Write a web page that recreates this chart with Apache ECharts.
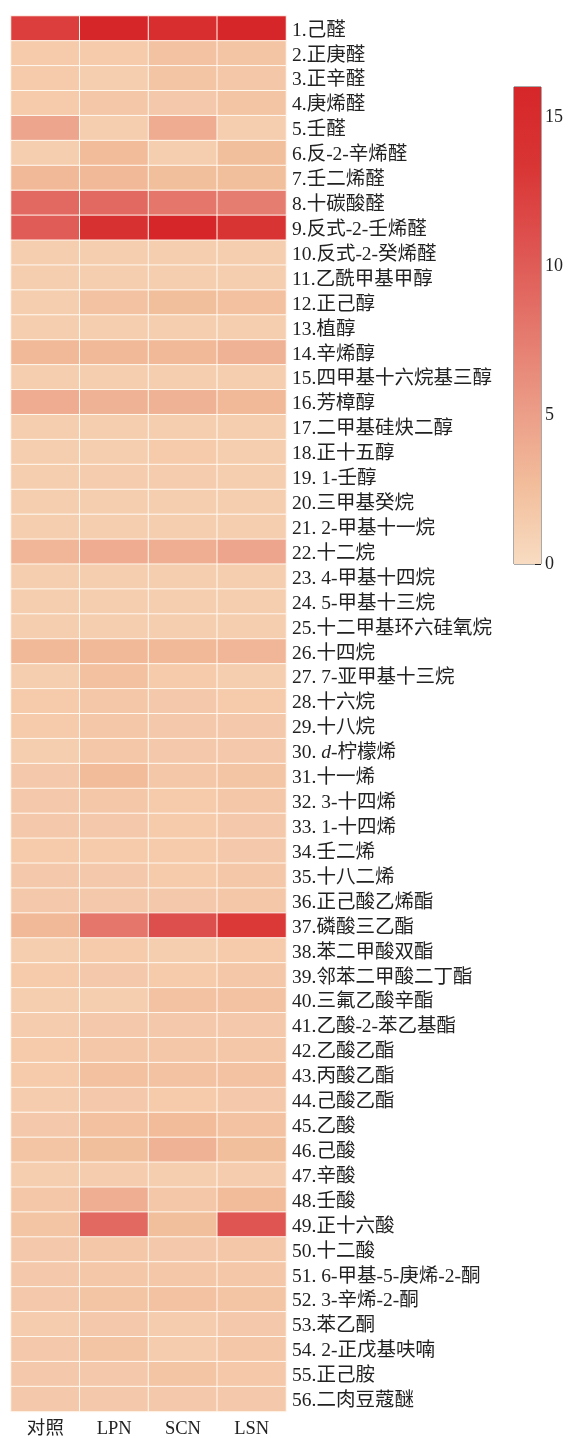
<!DOCTYPE html>
<html>
<head>
<meta charset="utf-8">
<script src="https://cdn.jsdelivr.net/npm/echarts@6/dist/echarts.min.js"></script>
<style>
  html, body { margin: 0; padding: 0; background: #fff; }
  #chart { width: 568px; height: 1438px; }
</style>
</head>
<body>
<div id="chart"></div>
<script>
// Volatile compounds (rows) and treatment groups (columns)
const compounds = [
  '1.己醛', '2.正庚醛', '3.正辛醛', '4.庚烯醛', '5.壬醛', '6.反-2-辛烯醛', '7.壬二烯醛',
  '8.十碳酸醛', '9.反式-2-壬烯醛', '10.反式-2-癸烯醛', '11.乙酰甲基甲醇', '12.正己醇',
  '13.植醇', '14.辛烯醇', '15.四甲基十六烷基三醇', '16.芳樟醇', '17.二甲基硅炔二醇',
  '18.正十五醇', '19. 1-壬醇', '20.三甲基癸烷', '21. 2-甲基十一烷', '22.十二烷',
  '23. 4-甲基十四烷', '24. 5-甲基十三烷', '25.十二甲基环六硅氧烷', '26.十四烷',
  '27. 7-亚甲基十三烷', '28.十六烷', '29.十八烷', '30. {i|d}-柠檬烯', '31.十一烯',
  '32. 3-十四烯', '33. 1-十四烯', '34.壬二烯', '35.十八二烯', '36.正己酸乙烯酯',
  '37.磷酸三乙酯', '38.苯二甲酸双酯', '39.邻苯二甲酸二丁酯', '40.三氟乙酸辛酯',
  '41.乙酸-2-苯乙基酯', '42.乙酸乙酯', '43.丙酸乙酯', '44.己酸乙酯', '45.乙酸',
  '46.己酸', '47.辛酸', '48.壬酸', '49.正十六酸', '50.十二酸', '51. 6-甲基-5-庚烯-2-酮',
  '52. 3-辛烯-2-酮', '53.苯乙酮', '54. 2-正戊基呋喃', '55.正己胺', '56.二肉豆蔻醚'
];
const groups = ['对照', 'LPN', 'SCN', 'LSN'];

const control = [
  12.5, 1.5, 1.5, 1.5, 4.5, 1.3, 3.0, 9.0, 10.0, 1.2, 1.2, 1.3, 1.3, 3.0, 1.2, 4.0,
  1.2, 1.3, 1.3, 1.2, 1.2, 3.2, 1.2, 1.2, 1.3, 3.0, 1.2, 1.5, 1.5, 1.3, 1.6, 1.6,
  1.6, 1.5, 1.6, 1.6, 3.0, 1.3, 1.5, 1.3, 1.4, 1.5, 1.5, 1.4, 1.6, 2.0, 1.3, 1.8,
  2.0, 1.6, 1.6, 1.6, 1.4, 1.6, 1.6, 1.6
];
const lpn = [
  16.0, 1.5, 1.3, 1.8, 1.3, 2.8, 3.0, 9.0, 14.0, 1.3, 1.3, 2.2, 1.3, 3.0, 1.2, 3.5,
  1.3, 1.3, 1.4, 1.2, 1.3, 4.0, 1.3, 1.3, 1.3, 3.0, 2.3, 1.8, 1.8, 1.8, 2.8, 1.8,
  1.6, 1.5, 1.6, 1.6, 8.0, 1.5, 1.6, 1.3, 1.6, 1.8, 2.3, 1.6, 2.3, 2.5, 1.4, 3.8,
  9.0, 1.8, 1.8, 2.0, 1.6, 2.0, 1.6, 1.6
];
const scn = [
  14.5, 2.2, 2.0, 1.6, 4.0, 1.2, 2.5, 8.0, 16.0, 1.3, 1.3, 2.5, 1.3, 3.0, 1.2, 3.5,
  1.2, 1.5, 1.4, 1.3, 1.3, 3.8, 1.3, 1.3, 1.3, 3.0, 1.5, 1.6, 1.6, 1.6, 1.8, 1.5,
  1.5, 1.5, 1.5, 1.6, 11.0, 1.3, 1.5, 2.2, 1.6, 1.8, 2.2, 1.5, 2.8, 3.5, 1.3, 1.8,
  2.5, 1.6, 1.8, 2.2, 1.4, 1.4, 2.0, 1.6
];
const lsn = [
  16.0, 2.0, 1.8, 2.0, 1.2, 2.5, 2.5, 7.5, 13.5, 1.2, 1.3, 2.3, 1.3, 3.5, 1.2, 3.0,
  1.2, 1.3, 1.3, 1.2, 1.3, 4.5, 1.2, 1.3, 1.3, 3.2, 1.2, 1.5, 1.6, 1.6, 2.0, 1.8,
  1.6, 1.6, 1.8, 1.8, 13.0, 1.5, 1.8, 2.2, 1.6, 1.8, 2.2, 1.6, 2.2, 2.5, 1.4, 2.8,
  10.5, 1.8, 1.8, 2.0, 1.6, 1.8, 1.7, 1.6
];

// Colour scale shared by the heatmap and its colour bar
const scaleMin = 0;
const scaleMax = 16;
const palette = ['#f8dcc2', '#f2bd9b', '#eb9a86', '#e4766b', '#de5350', '#d93535', '#d6262a'];

const columns = [control, lpn, scn, lsn];
const cells = [];
columns.forEach((col, gi) => {
  col.forEach((v, ri) => cells.push([gi, ri, v]));
});

const serif = '"Liberation Serif", "Noto Sans CJK SC", serif';

const chart = echarts.init(document.getElementById('chart'), null, { renderer: 'canvas' });
chart.setOption({
  backgroundColor: '#ffffff',
  animation: false,
  grid: [
    { left: 11, top: 16, width: 275, height: 1400 },
    { left: 514, top: 87, width: 27, height: 477, show: true, borderColor: '#555', borderWidth: 1, backgroundColor: 'transparent' }
  ],
  xAxis: [
    {
      type: 'category', data: groups, gridIndex: 0,
      axisLine: { show: false }, axisTick: { show: false }, splitLine: { show: false },
      axisLabel: { interval: 0, margin: 8, fontSize: 18.5, color: '#222', fontFamily: serif }
    },
    {
      type: 'category', data: ['c'], gridIndex: 1,
      axisLine: { show: false }, axisTick: { show: false }, axisLabel: { show: false }
    }
  ],
  yAxis: [
    {
      type: 'category', data: compounds, gridIndex: 0, inverse: true, position: 'right',
      axisLine: { show: false }, axisTick: { show: false }, splitLine: { show: false },
      axisLabel: {
        interval: 0, hideOverlap: false, padding: [4, 0, 0, 0],
        margin: 6, fontSize: 19.5, lineHeight: 22, color: '#222', fontFamily: serif, align: 'left',
        rich: { i: { fontStyle: 'italic', fontSize: 19.5, fontFamily: serif, color: '#222' } }
      }
    },
    {
      type: 'value', gridIndex: 1, min: scaleMin, max: scaleMax, interval: 5, position: 'right',
      axisLine: { show: false },
      axisTick: { show: true, inside: true, length: 6, lineStyle: { color: '#222' } },
      splitLine: { show: false },
      axisLabel: { margin: 4, fontSize: 18, color: '#222', fontFamily: serif, showMaxLabel: false }
    }
  ],
  visualMap: {
    show: false, type: 'continuous', seriesIndex: 0,
    min: scaleMin, max: scaleMax, inRange: { color: palette }
  },
  series: [
    {
      type: 'heatmap', xAxisIndex: 0, yAxisIndex: 0, data: cells,
      itemStyle: { borderColor: '#fff8ef', borderWidth: 1 },
      emphasis: { disabled: true }
    },
    {
      type: 'bar', xAxisIndex: 1, yAxisIndex: 1, data: [scaleMax], barWidth: '100%',
      silent: true, z: 1,
      itemStyle: {
        color: new echarts.graphic.LinearGradient(0, 1, 0, 0,
          palette.map((c, i) => ({ offset: i / (palette.length - 1), color: c })))
      }
    }
  ]
});
</script>
</body>
</html>
